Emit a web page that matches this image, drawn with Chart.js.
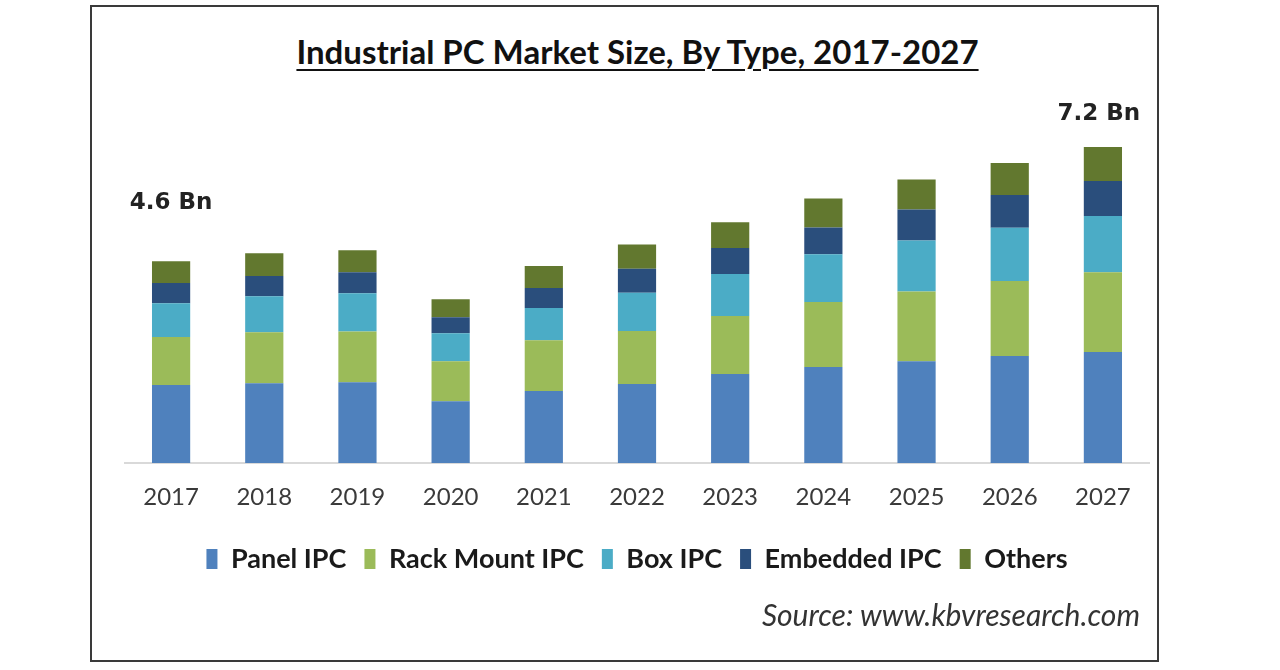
<!DOCTYPE html>
<html>
<head>
<meta charset="utf-8">
<title>Industrial PC Market Size, By Type, 2017-2027</title>
<script src="https://cdn.jsdelivr.net/npm/chart.js@4.4.1/dist/chart.umd.min.js"></script>
<style>
    html, body { margin: 0; padding: 0; background: #fff; }
    #wrap { position: relative; width: 1280px; height: 670px; overflow: hidden; }
    #frame {
        position: absolute; left: 90px; top: 5px; width: 1065px; height: 653px;
        border: 2px solid #3a3a3a;
    }
    #title {
        position: absolute; left: 0; width: 1275px; top: 31px; text-align: center;
        font-family: Lato, "Noto Sans", sans-serif; font-weight: bold; font-size: 33px;
        color: #111; text-decoration: underline; text-underline-offset: 5px;
        text-decoration-thickness: 2px;
    }
    #source {
        position: absolute; right: 140px; top: 596px;
        font-family: Lato, "Noto Sans", sans-serif; font-style: italic; font-size: 30px;
        color: #333;
    }
    #chart { position: absolute; left: 0; top: 0; }
</style>
</head>
<body>
<div id="wrap">
    <div id="frame"></div>
    <div id="title">Industrial PC Market Size, By Type, 2017-2027</div>
    <canvas id="chart" width="1280" height="670"></canvas>
    <div id="source">Source: www.kbvresearch.com</div>
</div>
<script>
// values in USD billion
const years = ['2017', '2018', '2019', '2020', '2021', '2022', '2023', '2024', '2025', '2026', '2027'];
const panelIPC = [1.78, 1.82, 1.84, 1.41, 1.64, 1.80, 2.03, 2.19, 2.32, 2.44, 2.53];
const rackMountIPC = [1.09, 1.16, 1.16, 0.91, 1.16, 1.21, 1.32, 1.48, 1.59, 1.71, 1.82];
const boxIPC = [0.77, 0.82, 0.87, 0.64, 0.73, 0.87, 0.96, 1.09, 1.16, 1.21, 1.28];
const embeddedIPC = [0.46, 0.46, 0.48, 0.36, 0.46, 0.55, 0.59, 0.61, 0.71, 0.75, 0.80];
const others = [0.50, 0.52, 0.50, 0.41, 0.50, 0.55, 0.59, 0.66, 0.68, 0.73, 0.77];

// total labels shown over the first and last bar
const callouts = [
    { index: 0, text: '4.6 Bn' },
    { index: 10, text: '7.2 Bn' }
];

const calloutPlugin = {
    id: 'callouts',
    afterDatasetsDraw(chart) {
        const ctx = chart.ctx;
        const x = chart.scales.x;
        const y = chart.scales.y;
        ctx.save();
        ctx.font = 'bold 23px "DejaVu Sans", sans-serif';
        ctx.fillStyle = '#222';
        ctx.textAlign = 'center';
        ctx.textBaseline = 'middle';
        callouts.forEach(function(c) {
            let total = 0;
            chart.data.datasets.forEach(function(ds) { total += ds.data[c.index]; });
            const top = y.getPixelForValue(total);
            // first label sits higher above its bar than the last one
            const gap = c.index === 0 ? 58 : 33;
            const cx = x.getPixelForValue(c.index) + (c.index === 0 ? 0 : -4);
            ctx.fillText(c.text, cx, top - gap);
        });
        ctx.restore();
    }
};

const ctx = document.getElementById('chart').getContext('2d');
new Chart(ctx, {
    type: 'bar',
    data: {
        labels: years,
        datasets: [
            { label: 'Panel IPC', data: panelIPC, backgroundColor: '#4f81bd' },
            { label: 'Rack Mount IPC', data: rackMountIPC, backgroundColor: '#9bbb59' },
            { label: 'Box IPC', data: boxIPC, backgroundColor: '#4bacc6' },
            { label: 'Embedded IPC', data: embeddedIPC, backgroundColor: '#2a4e7c' },
            { label: 'Others', data: others, backgroundColor: '#62782f' }
        ]
    },
    options: {
        responsive: false,
        animation: false,
        devicePixelRatio: 1,
        layout: {
            padding: { top: 112, left: 124.5, right: 130.5, bottom: 87.5 }
        },
        datasets: {
            bar: { categoryPercentage: 1, barPercentage: 0.41 }
        },
        scales: {
            x: {
                stacked: true,
                grid: { display: false, drawTicks: false },
                border: { display: true, color: '#d9d9d9', width: 2 },
                ticks: {
                    padding: 20,
                    color: '#3a3a3a',
                    font: { family: 'Lato, "Noto Sans", sans-serif', size: 24 }
                },
                afterFit: function(scale) { scale.height = 64.5; }
            },
            y: {
                stacked: true,
                display: false,
                min: 0,
                max: 8
            }
        },
        plugins: {
            legend: {
                position: 'bottom',
                labels: {
                    boxWidth: 11,
                    boxHeight: 20,
                    padding: 18,
                    color: '#1a1a1a',
                    font: { family: 'Lato, "Noto Sans", sans-serif', size: 27, weight: 'bold' }
                }
            },
            tooltip: { enabled: false }
        }
    },
    plugins: [calloutPlugin]
});
</script>
</body>
</html>
